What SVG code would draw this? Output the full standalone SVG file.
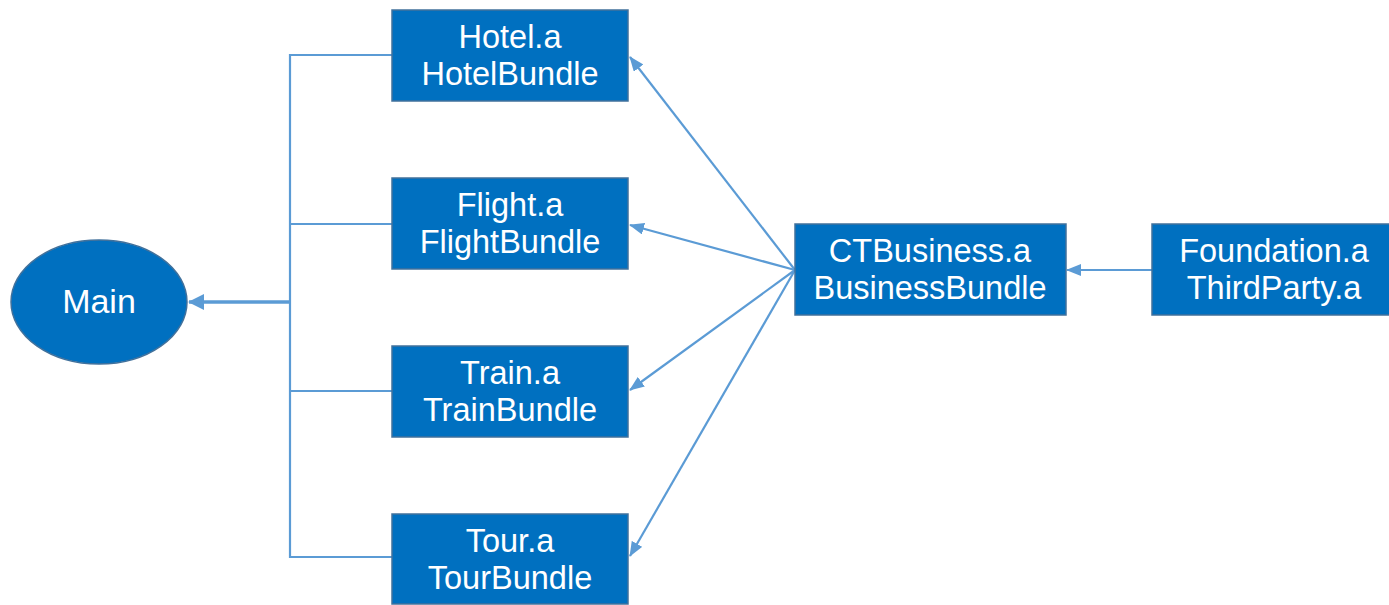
<svg xmlns="http://www.w3.org/2000/svg" width="1389" height="605" viewBox="0 0 1389 605">
<defs>
<style>
.box{fill:#0070C0;stroke:#41719C;stroke-width:1.5}
.t{font-family:"Liberation Sans",Arial,sans-serif;font-size:32.5px;fill:#ffffff;text-anchor:middle}
.c{fill:none;stroke:#5B9BD5;stroke-width:2.2}
</style>
<marker id="ah" viewBox="0 0 15 12" refX="14" refY="6" markerWidth="15" markerHeight="12" markerUnits="userSpaceOnUse" orient="auto">
<path d="M0,0 L15,6 L0,12 z" fill="#5B9BD5"/>
</marker>
<marker id="ahm" viewBox="0 0 16 16" refX="15" refY="8" markerWidth="16" markerHeight="16" markerUnits="userSpaceOnUse" orient="auto">
<path d="M0,0 L16,8 L0,16 z" fill="#5B9BD5"/>
</marker>
</defs>
<rect width="1389" height="605" fill="#ffffff"/>
<g id="connectors">
<path class="c" d="M392,55 H290 V557 H392 M290,224 H392 M290,391 H392"/>
<line class="c" x1="290" y1="302" x2="189" y2="302" style="stroke-width:3.5" marker-end="url(#ahm)"/>
<line class="c" x1="795" y1="270" x2="630" y2="57" marker-end="url(#ah)"/>
<line class="c" x1="795" y1="270" x2="630" y2="225" marker-end="url(#ah)"/>
<line class="c" x1="795" y1="270" x2="630" y2="390" marker-end="url(#ah)"/>
<line class="c" x1="795" y1="270" x2="630" y2="556" marker-end="url(#ah)"/>
<line class="c" x1="1152" y1="270" x2="1067" y2="270" marker-end="url(#ah)"/>
</g>
<g id="main">
<ellipse cx="99" cy="302" rx="88" ry="62" fill="#0070C0" stroke="#41719C" stroke-width="1.5"/>
<text class="t" x="99" y="313" style="font-size:34px">Main</text>
</g>
<g id="hotel">
<rect class="box" x="392" y="10" width="236" height="91"/>
<text class="t" x="510" y="47.5">Hotel.a</text>
<text class="t" x="510" y="85">HotelBundle</text>
</g>
<g id="flight">
<rect class="box" x="392" y="178" width="236" height="91"/>
<text class="t" x="510" y="215.5">Flight.a</text>
<text class="t" x="510" y="253">FlightBundle</text>
</g>
<g id="train">
<rect class="box" x="392" y="346" width="236" height="91"/>
<text class="t" x="510" y="383.5">Train.a</text>
<text class="t" x="510" y="421">TrainBundle</text>
</g>
<g id="tour">
<rect class="box" x="392" y="514" width="236" height="90"/>
<text class="t" x="510" y="551.5">Tour.a</text>
<text class="t" x="510" y="589">TourBundle</text>
</g>
<g id="ctbusiness">
<rect class="box" x="795" y="224" width="271" height="91"/>
<text class="t" x="930" y="261.5">CTBusiness.a</text>
<text class="t" x="930" y="299">BusinessBundle</text>
</g>
<g id="foundation">
<rect class="box" x="1152" y="224" width="244" height="91"/>
<text class="t" x="1274" y="261.5">Foundation.a</text>
<text class="t" x="1274" y="299">ThirdParty.a</text>
</g>
</svg>
